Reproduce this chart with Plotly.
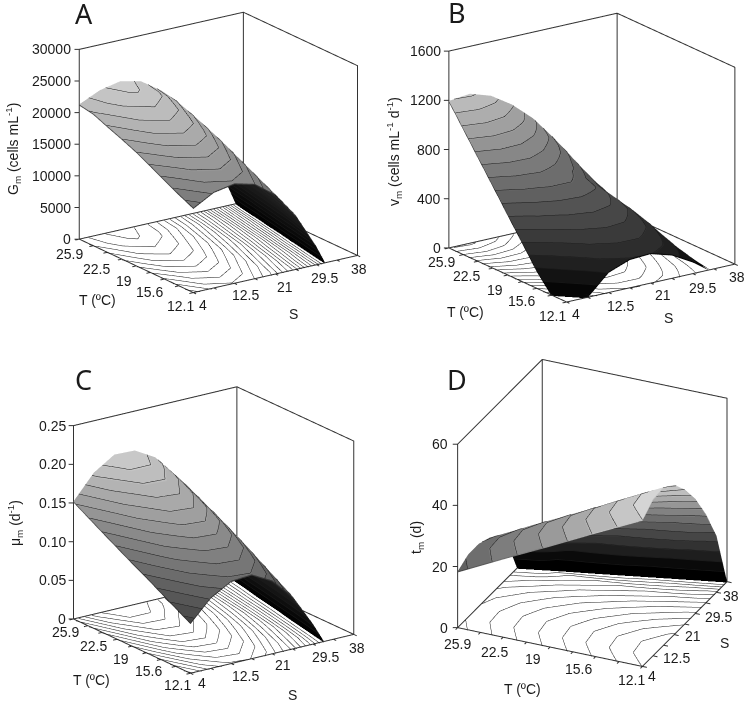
import math
import plotly.graph_objects as go

T_VALUES = [12.1, 13.85, 15.6, 17.3, 19, 20.75, 22.5, 24.2, 25.9]
S_COLUMNS = [4, 8.25, 12.5, 16.75, 21, 25.25, 29.5, 33.75]
T_LABEL_VALUES = [25.9, 22.5, 19, 15.6, 12.1]
T_LABEL_TEXT = ["25.9", "22.5", "19", "15.6", "12.1"]
S_TICKVALS = [4, 8.25, 12.5, 16.75, 21, 25.25, 29.5, 33.75, 38]
S_LABEL_VALUES = [4, 12.5, 21, 29.5, 38]
S_LABEL_TEXT = ["4", "12.5", "21", "29.5", "38"]

GM_ROWS = [
    [13400, 15200, 15800, 14990, 12560, 8520, 2860],
    [14500, 16400, 17000, 16180, 13730, 9660, 3930],
    [15700, 17500, 18200, 17390, 14940, 10880, 5190],
    [16900, 18700, 19400, 18580, 16120, 12030, 6310],
    [18040, 19800, 20500, 19700, 17260, 13220, 7560],
    [19030, 20800, 21500, 20700, 18300, 14280, 8660, 1440],
    [19940, 21700, 22400, 21620, 19260, 15320, 9830, 2750],
    [20880, 22500, 23200, 22430, 20110, 16260, 10860, 3900],
    [21300, 22800, 23500, 22770, 20560, 16870, 11700, 5080],
]
GM_ZERO_S = [31.3, 31.9, 32.6, 33.2, 33.9, 34.5, 35.2, 35.8, 36.5]

VM_ROWS = [
    [0, 5, 170, 235, 245, 195, 100],
    [0, 150, 285, 340, 340, 270, 150],
    [143, 290, 400, 440, 420, 340, 200, 10],
    [317, 440, 510, 530, 500, 400, 250, 50],
    [490, 590, 640, 640, 580, 450, 290, 90],
    [670, 745, 760, 710, 620, 480, 310, 120],
    [848, 900, 890, 820, 710, 550, 350, 150],
    [1022, 1060, 1030, 940, 810, 630, 400, 180],
    [1195, 1215, 1160, 1050, 900, 700, 440, 200],
]
VM_ZERO_S = [33, 33.6, 34.2, 35, 35.6, 36.2, 36.8, 37.4, 38]
VM_START_S = [8.0, 4, 4, 4, 4, 4, 4, 4, 4]

MU_ROWS = [
    [.065, .092, .107, .109, .095, .068, .026],
    [.076, .104, .120, .122, .108, .080, .040],
    [.087, .116, .133, .135, .121, .092, .052],
    [.098, .128, .146, .148, .133, .104, .063, .002],
    [.108, .139, .158, .160, .145, .115, .073, .012],
    [.119, .150, .169, .171, .156, .126, .083, .022],
    [.130, .161, .180, .181, .166, .136, .092, .031],
    [.141, .172, .191, .191, .176, .146, .101, .040],
    [.152, .183, .200, .199, .184, .154, .109, .048],
]
MU_ZERO_S = [31.8, 32.5, 33.2, 33.9, 34.7, 35.4, 36.1, 36.9, 37.6]

TM_ROWS = [
    [48, 51.3, 51.7, 49, 44, 37.5, 29, 18.5],
    [44.3, 47.4, 47.8, 45.3, 40.5, 34, 25.5, 13],
    [40.6, 43.5, 43.9, 41.5, 37, 30.5, 22, 8],
    [36.9, 39.6, 40, 37.7, 33.3, 27, 18.5, 3],
    [33.2, 35.7, 36.1, 34, 29.8, 23.5, 15],
    [29.5, 31.8, 32.2, 30.2, 26.2, 20, 11],
    [25.8, 28, 28.3, 26.5, 22.5, 16, 7],
    [22.1, 24.2, 24.4, 22.7, 18.8, 12],
    [18.4, 20.5, 20.5, 19, 15, 8],
]
TM_ZERO_S = [38, 36.75, 35.5, 34.25, 33, 31.75, 30.5, 29.25, 28]

FONT = "Liberation Sans"
TICK_COLOR = "#1a1a1a"
WIDTH, HEIGHT = 750, 705
SHIFT_PX_PER_UNIT = 232.0
PAD_Z = 0.004
PAD_XY = 0.035
TICK_FRAC = 0.024


def grid(rows, zero_s, start_s=None):
    xs, ys, zs = [], [], []
    n = len(S_COLUMNS) + 1
    for i, row in enumerate(rows):
        rx = []
        rz = []
        for j in range(n):
            if j < len(row):
                rx.append(S_COLUMNS[j])
                rz.append(row[j])
            else:
                rx.append(zero_s[i])
                rz.append(0)
        if start_s is not None:
            rx[0] = start_s[i]
        xs.append(rx)
        ys.append([T_VALUES[i]] * n)
        zs.append(rz)
    return xs, ys, zs


def bands(step, zmax, gray_at):
    scale = []
    n = int(math.ceil(zmax / step))
    for k in range(n):
        lo, hi = k * step / zmax, min((k + 1) * step / zmax, 1.0)
        g = int(round(min(255, gray_at((k + .5) * step))))
        c = f"rgb({g},{g},{g})"
        scale += [[lo, c], [hi, c]]
    return scale


PANELS = [
    dict(rows=GM_ROWS, zero=GM_ZERO_S, start=None, zmax=30000, ticks=[0, 5000, 10000, 15000, 20000, 25000, 30000],
         tickt=["0", "5000", "10000", "15000", "20000", "25000", "30000"], step=1000,
         top=lambda z: z / 23500 * 205, under=lambda z: z / 16000 * 62, az=235.2, el=19.0, zoom=1.168, zoomz=1.173,
         shift=(41.5, 27), dom=(0, 375, 0, 345), zpad=6,
         tshift=[(-10, 15), (-10.5, 17), (-12, 15), (-14.5, 13), (-13, 13)],
         sshift=[(10, 12), (11, 12), (10, 12.5), (8, 13), (2, 14)]),
    dict(rows=VM_ROWS, zero=VM_ZERO_S, start=VM_START_S, zmax=1600, ticks=[0, 400, 800, 1200, 1600],
         tickt=["0", "400", "800", "1200", "1600"], step=80,
         top=lambda z: z / 1215 * 195, under=lambda z: z / 1215 * 60, az=235.0, el=18.75, zoom=1.20, zoomz=1.215,
         shift=(39.5, 20), dom=(375, 750, 0, 345), zpad=6,
         tshift=[(-7.7, 14), (-11, 15), (-12.7, 15), (-15, 12.7), (-14.4, 14)],
         sshift=[(9, 12), (12, 13.4), (12, 12), (10, 14), (2, 13)]),
    dict(rows=MU_ROWS, zero=MU_ZERO_S, start=None, zmax=.25, ticks=[0, .05, .10, .15, .20, .25],
         tickt=["0", "0.05", "0.10", "0.15", "0.20", "0.25"], step=.01,
         top=lambda z: z / .2 * 205, under=lambda z: z / .11 * 62, az=234.4, el=19.4, zoom=1.125, zoomz=1.148,
         shift=(33.7, -6.5), dom=(0, 375, 345, 705), zpad=6,
         tshift=[(-7.7, 13), (-9, 14), (-11.4, 13), (-12.4, 11.6), (-13.3, 11.4)],
         sshift=[(11.7, 10), (14, 12), (11, 11), (13, 13), (3, 14)]),
    dict(rows=TM_ROWS, zero=TM_ZERO_S, start=None, zmax=60, ticks=[0, 20, 40, 60],
         tickt=["0", "20", "40", "60"], step=4,
         top=lambda z: 30 + z / 52 * 190, under=lambda z: min(195, max(0, (z - 4) / 38 * 190)), az=204.6, el=27.3,
         zoom=1.138, zoomz=1.156, shift=(38.5, 15.5), dom=(375, 750, 345, 705), zpad=8,
         tshift=[(0, 16.7), (-9, 14.6), (-17.3, 11.5), (-17, 12.4), (-11.3, 13.3)],
         sshift=[(9.7, 9.3), (13, 12.5), (8.3, 12.3), (12.5, 13.8), (4.3, 14.7)]),
]

fig = go.Figure()
layout_scenes = {}

for idx, p in enumerate(PANELS, 1):
    name = "scene" if idx == 1 else f"scene{idx}"
    x, y, z = grid(p["rows"], p["zero"], p["start"])
    peak = max(max(r) for r in p["rows"])
    contour = dict(show=True, start=p["step"], end=peak, size=p["step"], color="#1a1a1a", width=2,
                   project=dict(z=True), usecolormap=False, highlight=False)
    off = dict(show=False, highlight=False)
    light = dict(ambient=1, diffuse=0, specular=0, roughness=1, fresnel=0)
    fig.add_trace(go.Surface(x=x, y=y, z=z, scene=name, showscale=False, cmin=0, cmax=peak,
                             colorscale=bands(p["step"], peak, p["top"]), lighting=light,
                             contours=dict(x=off, y=off, z=contour), hoverinfo="skip"))
    eps = p["zmax"] * .006
    zu = [[v - eps for v in r] for r in z]
    fig.add_trace(go.Surface(x=x, y=y, z=zu, scene=name, showscale=False, cmin=0, cmax=peak,
                             colorscale=bands(p["step"], peak, p["under"]), lighting=light,
                             contours=dict(x=off, y=off, z=dict(show=False, highlight=False)), hoverinfo="skip"))
    s0, s1 = S_TICKVALS[0], S_TICKVALS[-1]
    t0, t1 = T_VALUES[0], T_VALUES[-1]
    sr, tr = s1 - s0, t1 - t0
    zt = p["zmax"]
    fig.add_trace(go.Scatter3d(
        x=[s0, s0, s1, s1, s0, None, s0, s0, s1, s1, s1, None, s1, s1],
        y=[t0, t1, t1, t0, t0, None, t1, t1, t1, t0, t0, None, t1, t1],
        z=[0, 0, 0, 0, 0, None, 0, zt, zt, zt, 0, None, 0, zt],
        mode="lines", line=dict(color="#333333", width=2), connectgaps=False,
        scene=name, hoverinfo="skip", showlegend=False))

    az, el = math.radians(p["az"]), math.radians(p["el"])
    d = (math.cos(el) * math.cos(az), math.cos(el) * math.sin(az), math.sin(el))
    r = (-math.sin(az), math.cos(az), 0)
    u = (-math.sin(el) * math.cos(az), -math.sin(el) * math.sin(az), math.cos(el))

    tx, ty, tz = [], [], []
    for v in T_VALUES:
        tx += [s0, s0 - TICK_FRAC * sr, None]
        ty += [v, v, None]
        tz += [0, 0, None]
    for v in S_TICKVALS:
        tx += [v, v, None]
        ty += [t0, t0 - TICK_FRAC * tr, None]
        tz += [0, 0, None]
    for v in p["ticks"]:
        tx += [s0, s0 - r[0] * TICK_FRAC * sr, None]
        ty += [t1, t1 - r[1] * TICK_FRAC * tr, None]
        tz += [v, v, None]
    fig.add_trace(go.Scatter3d(x=tx, y=ty, z=tz, mode="lines", line=dict(color="#333333", width=2),
                               connectgaps=False, scene=name, hoverinfo="skip", showlegend=False))

    x0, x1, y0, y1 = p["dom"]
    dx, dy = p["shift"]
    cx = [-(r[i] * dx + u[i] * dy) / SHIFT_PX_PER_UNIT for i in range(3)]
    ax_common = dict(showgrid=False, zeroline=False, showbackground=False, showspikes=False, showline=False,
                     ticks="", title=dict(text=""), showticklabels=False, autorange=False)
    k = p["zoom"]
    kxy = k * (1 + 2 * PAD_XY) / (1 + 2 * PAD_Z)
    tick_font = dict(family=FONT, size=14, color=TICK_COLOR)
    notes = []
    for v, txt in zip(p["ticks"], p["tickt"]):
        notes.append(dict(x=s0, y=t1, z=v, text=txt, showarrow=False, xanchor="right", yanchor="middle",
                          xshift=-p["zpad"], font=tick_font))
    for v, txt, (sx, sy) in zip(T_LABEL_VALUES, T_LABEL_TEXT, p["tshift"]):
        notes.append(dict(x=s0, y=v, z=0, text=txt, showarrow=False, xanchor="center", yanchor="middle",
                          xshift=sx, yshift=-sy, font=tick_font))
    for v, txt, (sx, sy) in zip(S_LABEL_VALUES, S_LABEL_TEXT, p["sshift"]):
        notes.append(dict(x=v, y=t0, z=0, text=txt, showarrow=False, xanchor="center", yanchor="middle",
                          xshift=sx, yshift=-sy, font=tick_font))
    layout_scenes[name] = dict(
        domain=dict(x=[x0 / WIDTH, x1 / WIDTH], y=[1 - y1 / HEIGHT, 1 - y0 / HEIGHT]),
        aspectmode="manual", aspectratio=dict(x=kxy, y=kxy, z=p["zoomz"]), bgcolor="white",
        camera=dict(projection=dict(type="orthographic"),
                    center=dict(x=cx[0], y=cx[1], z=cx[2]),
                    eye=dict(x=cx[0] + d[0] * 1.5, y=cx[1] + d[1] * 1.5, z=cx[2] + d[2] * 1.5),
                    up=dict(x=0, y=0, z=1)),
        xaxis=dict(range=[s0 - PAD_XY * sr, s1 + PAD_XY * sr], **ax_common),
        yaxis=dict(range=[t0 - PAD_XY * tr, t1 + PAD_XY * tr], **ax_common),
        zaxis=dict(range=[-PAD_Z * zt, zt * (1 + PAD_Z)], **ax_common),
        annotations=notes,
    )

ANNOTATIONS = [
    ("A", 84, 13, 0, 27), ("B", 457, 12, 0, 27), ("C", 83, 379, 0, 27), ("D", 457, 379, 0, 27),
    ("G<sub>m</sub> (cells mL<sup>-1</sup>)", 13, 149, -90, 14),
    ("v<sub>m</sub> (cells mL<sup>-1</sup> d<sup>-1</sup>)", 394, 152, -90, 14),
    ("μ<sub>m</sub> (d<sup>-1</sup>)", 15, 523, -90, 14),
    ("t<sub>m</sub> (d)", 417, 538, -90, 14),
    ("T (ºC)", 97, 300, 0, 14), ("T (ºC)", 465, 312, 0, 14), ("T (ºC)", 91, 680, 0, 14), ("T (ºC)", 522, 689, 0, 14),
    ("S", 293, 314, 0, 14), ("S", 668, 318, 0, 14), ("S", 292, 695, 0, 14), ("S", 724, 643, 0, 14),
]
fig.update_layout(
    width=WIDTH, height=HEIGHT, margin=dict(l=0, r=0, t=0, b=0), paper_bgcolor="white", showlegend=False,
    annotations=[dict(text=t, x=ax / WIDTH, y=1 - ay / HEIGHT, xref="paper", yref="paper", xanchor="center",
                      yanchor="middle", showarrow=False, textangle=ang,
                      font=dict(family=FONT if sz < 20 else "Noto Sans", size=sz, color="#1a1a1a"))
                 for t, ax, ay, ang, sz in ANNOTATIONS],
    **layout_scenes,
)
fig.write_html("out.html", post_script="document.body.style.margin='0';", config={"displayModeBar": False})
